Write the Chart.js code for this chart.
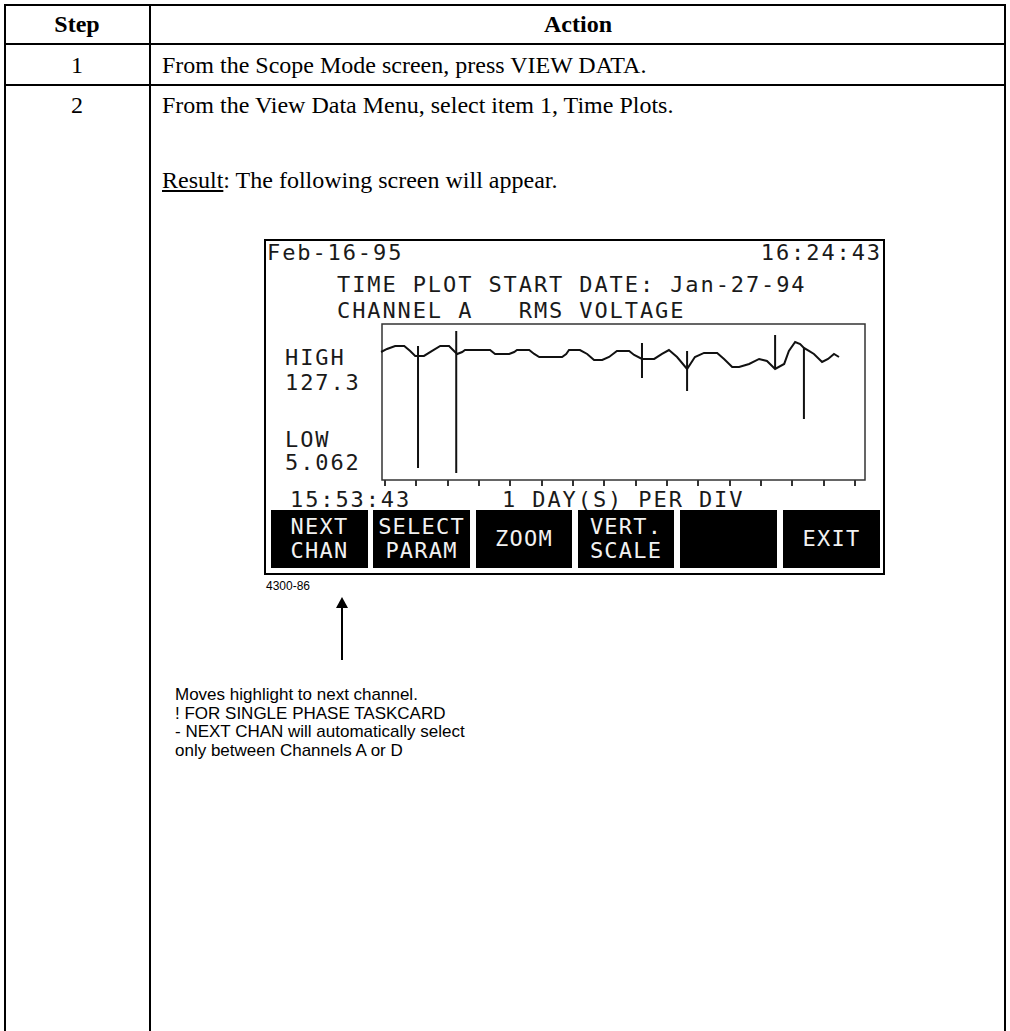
<!DOCTYPE html>
<html lang="en">
<head>
<meta charset="UTF-8">
<title>Time Plot - Channel A RMS Voltage</title>
<script src="https://cdn.jsdelivr.net/npm/chart.js"></script>
<style>
  body { margin: 0; background: #fff; }
  #page { position: relative; width: 1010px; height: 1031px; overflow: hidden;
          font-family: "Liberation Serif", "Times New Roman", serif; font-size: 24px; color: #000; }
  .ln { position: absolute; background: #000; }
  .t { position: absolute; white-space: pre; line-height: 24px; }
  .lcd { position: absolute; white-space: pre; font-family: "DejaVu Sans Mono", monospace;
         font-size: 22px; letter-spacing: 1.9px; line-height: 22px; color: #1a1a1a; }
  .key { position: absolute; top: 510px; height: 58px; background: #000; color: #f2f2f2;
         display: flex; align-items: center; justify-content: center; text-align: center;
         font-family: "DejaVu Sans Mono", monospace; font-size: 22px; letter-spacing: 1.2px;
         line-height: 24px; white-space: pre; }
  .note { position: absolute; white-space: pre; font-family: "Liberation Sans", Arial, sans-serif; color: #000; }
</style>
</head>
<body>
<div id="page">
  <!-- table grid -->
  <div class="ln" style="left:4px; top:4px; width:1002px; height:2px;"></div>
  <div class="ln" style="left:4px; top:43px; width:1002px; height:2px;"></div>
  <div class="ln" style="left:4px; top:84px; width:1002px; height:2px;"></div>
  <div class="ln" style="left:4px; top:4px; width:2px; height:1027px;"></div>
  <div class="ln" style="left:149px; top:4px; width:2px; height:1027px;"></div>
  <div class="ln" style="left:1004px; top:4px; width:2px; height:1027px;"></div>

  <div class="t" style="left:4px; width:146px; top:12px; text-align:center; font-weight:bold;">Step</div>
  <div class="t" style="left:150px; width:856px; top:12px; text-align:center; font-weight:bold;">Action</div>
  <div class="t" style="left:4px; width:146px; top:53px; text-align:center;">1</div>
  <div class="t" style="left:162px; top:53px;">From the Scope Mode screen, press VIEW DATA.</div>
  <div class="t" style="left:4px; width:146px; top:93px; text-align:center;">2</div>
  <div class="t" style="left:162px; top:93px;">From the View Data Menu, select item 1, Time Plots.</div>
  <div class="t" style="left:162px; top:168px;"><u>Result</u>: The following screen will appear.</div>

  <!-- instrument screen -->
  <div style="position:absolute; left:264px; top:239px; width:617px; height:332px; border:2px solid #000;"></div>
  <div class="lcd" style="left:267px; top:242px;">Feb-16-95</div>
  <div class="lcd" style="right:128px; top:242px;">16:24:43</div>
  <div class="lcd" style="left:337px; top:274px;">TIME PLOT START DATE: Jan-27-94</div>
  <div class="lcd" style="left:337px; top:300px;">CHANNEL A   RMS VOLTAGE</div>
  <div class="lcd" style="left:285px; top:347px;">HIGH</div>
  <div class="lcd" style="left:285px; top:372px;">127.3</div>
  <div class="lcd" style="left:285px; top:429px;">LOW</div>
  <div class="lcd" style="left:285px; top:452px;">5.062</div>
  <div class="lcd" style="left:290px; top:489px;">15:53:43      1 DAY(S) PER DIV</div>

  <div class="key" style="left:271px; width:97px;">NEXT
CHAN</div>
  <div class="key" style="left:373px; width:97px;">SELECT
PARAM</div>
  <div class="key" style="left:476px; width:96px;">ZOOM</div>
  <div class="key" style="left:578px; width:96px;">VERT.
SCALE</div>
  <div class="key" style="left:680px; width:97px;"></div>
  <div class="key" style="left:783px; width:97px;">EXIT</div>

  <canvas id="timePlot" width="487" height="167" style="position:absolute; left:380px; top:322px;"></canvas>

  <!-- callout -->
  <div class="note" style="left:266px; top:579px; font-size:12px; line-height:14px;">4300-86</div>
  <div style="position:absolute; left:336px; top:597px; width:0; height:0; border-left:6px solid transparent; border-right:6px solid transparent; border-bottom:11px solid #000;"></div>
  <div class="ln" style="left:341px; top:607px; width:2px; height:53px;"></div>
  <div class="note" style="left:175px; top:686px; font-size:17px; line-height:18.5px;">Moves highlight to next channel.
! FOR SINGLE PHASE TASKCARD
- NEXT CHAN will automatically select
only between Channels A or D</div>
</div>

<script>
  // x in days from plot start (1 day per division), y in volts RMS
  const traceDays = [-0.13, 0.06, 0.32, 0.61, 0.80, 0.96, 1.24, 1.50, 1.76, 2.04, 2.20, 2.30, 2.46, 2.55,
    3.35, 3.51, 3.96, 4.12, 4.21, 4.60, 4.76, 4.92, 5.65, 5.78, 5.87, 6.22, 6.45, 6.67, 6.93, 7.15,
    7.40, 7.79, 7.95, 8.20, 8.59, 8.84, 9.06, 9.32, 9.64, 9.89, 10.18, 10.60, 10.82, 11.08, 11.30,
    11.62, 11.94, 12.19, 12.45, 12.74, 12.89, 13.09, 13.25, 13.37, 13.53, 13.69, 13.95, 14.14, 14.33, 14.49];
  const traceVolts = [109.2, 111.8, 114.4, 114.4, 110.1, 105.8, 105.8, 110.1, 114.4, 114.4, 110.1, 107.5, 109.2, 110.9,
    110.9, 107.5, 107.5, 109.2, 110.9, 110.9, 107.5, 104.9, 104.9, 107.5, 110.9, 110.9, 107.5, 102.3, 102.3, 104.9,
    110.1, 110.1, 106.6, 103.2, 103.2, 107.5, 110.9, 104.9, 94.6, 104.9, 108.4, 108.4, 103.2, 96.3, 96.3,
    98.9, 103.2, 101.5, 94.6, 98.9, 110.1, 117.8, 116.1, 112.7, 110.1, 107.5, 100.6, 103.2, 107.5, 104.9];

  // min/max excursions recorded inside single intervals
  const spikeDays = [1.05, 2.27, 8.20, 9.64, 12.45, 13.37];
  const spikeHigh = [114.4, 127.3, 117.0, 110.1, 123.8, 112.7];
  const spikeLow  = [9.4, 5.062, 86.8, 75.6, 94.6, 51.5];

  const dayTicks = [0, 1, 2, 3, 4, 5, 6, 7, 8, 9, 10, 11, 12, 13, 14, 15];

  const tracePoints = traceDays.map((d, i) => ({ x: d, y: traceVolts[i] }));
  const spikePoints = [];
  spikeDays.forEach((d, i) => {
    spikePoints.push({ x: d, y: spikeHigh[i] }, { x: d, y: spikeLow[i] }, { x: d, y: null });
  });

  const lcdFrame = {
    id: 'lcdFrame',
    beforeDatasetsDraw(chart) {
      const { ctx, chartArea: a, scales } = chart;
      ctx.save();
      ctx.strokeStyle = '#333';
      ctx.lineWidth = 1.5;
      ctx.strokeRect(a.left, a.top, a.right - a.left, a.bottom - a.top);
      ctx.lineWidth = 2;
      dayTicks.forEach(v => {
        const px = Math.round(scales.x.getPixelForValue(v));
        ctx.beginPath();
        ctx.moveTo(px, a.bottom);
        ctx.lineTo(px, a.bottom + 6);
        ctx.stroke();
      });
      ctx.restore();
    }
  };

  new Chart(document.getElementById('timePlot'), {
    type: 'line',
    data: {
      datasets: [
        { label: 'RMS voltage', data: tracePoints, borderColor: '#111', borderWidth: 2,
          pointRadius: 0, tension: 0, clip: false },
        { label: 'Min/Max', data: spikePoints, borderColor: '#111', borderWidth: 2,
          pointRadius: 0, tension: 0, spanGaps: false, clip: false }
      ]
    },
    options: {
      responsive: false,
      animation: false,
      events: [],
      layout: { padding: { left: 2, right: 2, top: 2, bottom: 9 } },
      scales: {
        x: { type: 'linear', min: -0.1, max: 15.32, display: false },
        y: { type: 'linear', min: -1, max: 133.3, display: false }
      },
      plugins: { legend: { display: false }, tooltip: { enabled: false } }
    },
    plugins: [lcdFrame]
  });
</script>
</body>
</html>
